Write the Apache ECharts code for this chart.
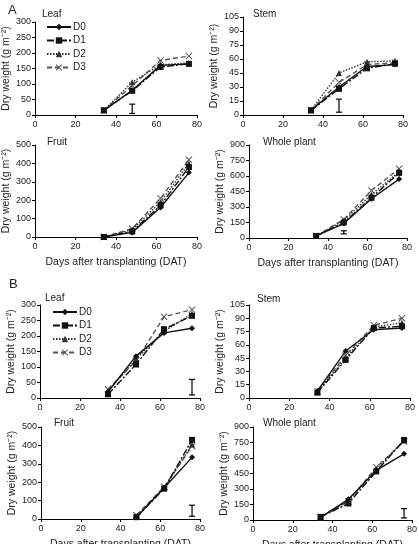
<!DOCTYPE html>
<html>
<head>
<meta charset="utf-8">
<script src="https://cdn.jsdelivr.net/npm/echarts@6/dist/echarts.min.js"></script>
<style>
  html, body { margin: 0; padding: 0; background: #fff; }
  #chart { width: 419px; height: 544px; }
</style>
</head>
<body>
<div id="chart"></div>
<script>
// sampling days (DAT)
const days = [34, 48, 62, 76]
const daysLate = [48, 62, 76]
const treatments = ['D0', 'D1', 'D2', 'D3']

// dry weight, rows = D0..D3
const aLeaf = [[15, 80, 160, 165], [15, 78, 155, 165], [15, 106, 162, 168], [15, 95, 176, 190]]
const aStem = [[5, 30, 52, 54], [5, 28, 50, 55], [5, 45, 57, 58], [5, 35, 54, 56]]
const aFruit = [[0, 25, 160, 350], [0, 30, 172, 380], [0, 40, 190, 400], [0, 45, 210, 420]]
const aWhole = [[20, 140, 380, 570], [20, 150, 390, 630], [20, 170, 420, 640], [20, 180, 460, 670]]
const bLeaf = [[20, 135, 210, 225], [12, 108, 222, 265], [22, 125, 215, 272], [28, 120, 262, 285]]
const bStem = [[8, 53, 77, 79], [6, 43, 79, 81], [7, 45, 80, 85], [8, 48, 82, 90]]
const bFruit = [[10, 170, 335], [10, 165, 430], [15, 170, 405], [20, 175, 395]]
const bWhole = [[25, 200, 480, 640], [30, 160, 470, 775], [25, 190, 490, 770], [30, 180, 510, 760]]

// LSD bars [day, low, high]
const aLeafErr = [[48, 5, 35]]
const aStemErr = [[48, 3, 17]]
const aWholeErr = [[48, 40, 70]]
const bLeafErr = [[76, 10, 60]]
const bFruitErr = [[76, 15, 75]]
const bWholeErr = [[76, 20, 110]]

const FONT = 'Liberation Sans'
const INK = '#222'

const styles = [
  { symbol: 'diamond', size: 6, dash: 'solid', color: '#111' },
  { symbol: 'rect', size: 6, dash: [7, 2, 2, 2], color: '#111' },
  { symbol: 'triangle', size: 6, dash: [1.5, 1.5], color: '#333' },
  { symbol: 'path://M0,1L1,0L5,4L9,0L10,1L6,5L10,9L9,10L5,6L1,10L0,9L4,5Z', size: 7, dash: [5, 3], color: '#555' }
]

const panels = [
  { name: 'Leaf', x: days, vals: aLeaf, err: aLeafErr, max: 300, step: 50, grid: { left: 35, top: 22, width: 162, height: 93 }, title: [37, 4] },
  { name: 'Stem', x: days, vals: aStem, err: aStemErr, max: 105, step: 15, grid: { left: 243, top: 17, width: 160, height: 98 }, title: [248, 4] },
  { name: 'Fruit', x: days, vals: aFruit, err: [], max: 500, step: 100, grid: { left: 35, top: 145, width: 162, height: 92 }, title: [42, 132], xName: true },
  { name: 'Whole plant', x: days, vals: aWhole, err: aWholeErr, max: 900, step: 150, grid: { left: 249, top: 145, width: 158, height: 93 }, title: [258, 132], xName: true },
  { name: 'Leaf', x: days, vals: bLeaf, err: bLeafErr, max: 300, step: 50, grid: { left: 40, top: 305, width: 160, height: 93 }, title: [40, 288] },
  { name: 'Stem', x: days, vals: bStem, err: [], max: 105, step: 15, grid: { left: 249, top: 305, width: 161, height: 93 }, title: [252, 289] },
  { name: 'Fruit', x: daysLate, vals: bFruit, err: bFruitErr, max: 500, step: 100, grid: { left: 41, top: 427, width: 159, height: 92 }, title: [49, 413], xName: true },
  { name: 'Whole plant', x: days, vals: bWhole, err: bWholeErr, max: 900, step: 150, grid: { left: 253, top: 427, width: 159, height: 93 }, title: [258, 413], xName: true }
]

const chart = echarts.init(document.getElementById('chart'), null, { renderer: 'canvas' })

const grid = [], xAxis = [], yAxis = [], series = []
const title = [
  { text: 'A', left: 3, top: -1, textStyle: { fontFamily: FONT, fontSize: 13, fontWeight: 'normal', color: INK } },
  { text: 'B', left: 4, top: 273, textStyle: { fontFamily: FONT, fontSize: 13, fontWeight: 'normal', color: INK } }
]

panels.forEach((p, i) => {
  grid.push(Object.assign({ outerBoundsMode: 'none' }, p.grid))
  title.push({ text: p.name, left: p.title[0], top: p.title[1], textStyle: { fontFamily: FONT, fontSize: 10, fontWeight: 'normal', color: INK } })
  xAxis.push({
    type: 'value', gridIndex: i, min: 0, max: 80, interval: 20,
    name: p.xName ? 'Days after transplanting (DAT)' : '',
    nameLocation: 'middle', nameGap: 20,
    nameTextStyle: { fontFamily: FONT, fontSize: 10.5, color: INK },
    axisLine: { lineStyle: { color: '#000', width: 1 } },
    axisTick: { show: true, length: 3, lineStyle: { color: '#000' } },
    axisLabel: { fontFamily: FONT, fontSize: 9, color: INK, margin: 5 },
    splitLine: { show: false }
  })
  yAxis.push({
    type: 'value', gridIndex: i, min: 0, max: p.max, interval: p.step,
    name: 'Dry weight (g m\u207B\u00B2)', nameLocation: 'middle', nameGap: 22,
    nameTextStyle: { fontFamily: FONT, fontSize: 10.5, color: INK },
    axisLine: { show: true, lineStyle: { color: '#000', width: 1 } },
    axisTick: { show: true, length: 3, lineStyle: { color: '#000' } },
    axisLabel: { fontFamily: FONT, fontSize: 9, color: INK, margin: 4 },
    splitLine: { show: false }
  })
  p.vals.forEach((v, k) => {
    const s = styles[k]
    series.push({
      name: treatments[k], type: 'line', xAxisIndex: i, yAxisIndex: i,
      data: v.map((y, j) => [p.x[j], y]),
      symbol: s.symbol, symbolSize: s.size,
      itemStyle: { color: s.color },
      lineStyle: { color: s.color, width: 1.4, type: s.dash },
      z: 10 - k,
      animation: false
    })
  })
  if (p.err.length) {
    series.push({
      type: 'custom', xAxisIndex: i, yAxisIndex: i, data: p.err,
      encode: { x: 0, y: [1, 2] }, silent: true, animation: false,
      renderItem: (params, api) => {
        const lo = api.coord([api.value(0), api.value(1)])
        const hi = api.coord([api.value(0), api.value(2)])
        const st = { stroke: '#000', lineWidth: 1.2 }
        return {
          type: 'group',
          children: [
            { type: 'line', shape: { x1: lo[0], y1: lo[1], x2: hi[0], y2: hi[1] }, style: st },
            { type: 'line', shape: { x1: lo[0] - 3, y1: lo[1], x2: lo[0] + 3, y2: lo[1] }, style: st },
            { type: 'line', shape: { x1: hi[0] - 3, y1: hi[1], x2: hi[0] + 3, y2: hi[1] }, style: st }
          ]
        }
      }
    })
  }
})

const legendBase = {
  data: treatments, orient: 'vertical', itemWidth: 24, itemHeight: 8,
  selectedMode: false, padding: 0,
  textStyle: { fontFamily: FONT, fontSize: 10, color: INK, padding: [0, 0, 0, -3] }
}

chart.setOption({
  animation: false,
  backgroundColor: '#fff',
  title,
  legend: [
    Object.assign({ left: 46, top: 22, itemGap: 3.5 }, legendBase),
    Object.assign({ left: 52, top: 307, itemGap: 3.5 }, legendBase)
  ],
  grid, xAxis, yAxis, series
})
</script>
</body>
</html>
